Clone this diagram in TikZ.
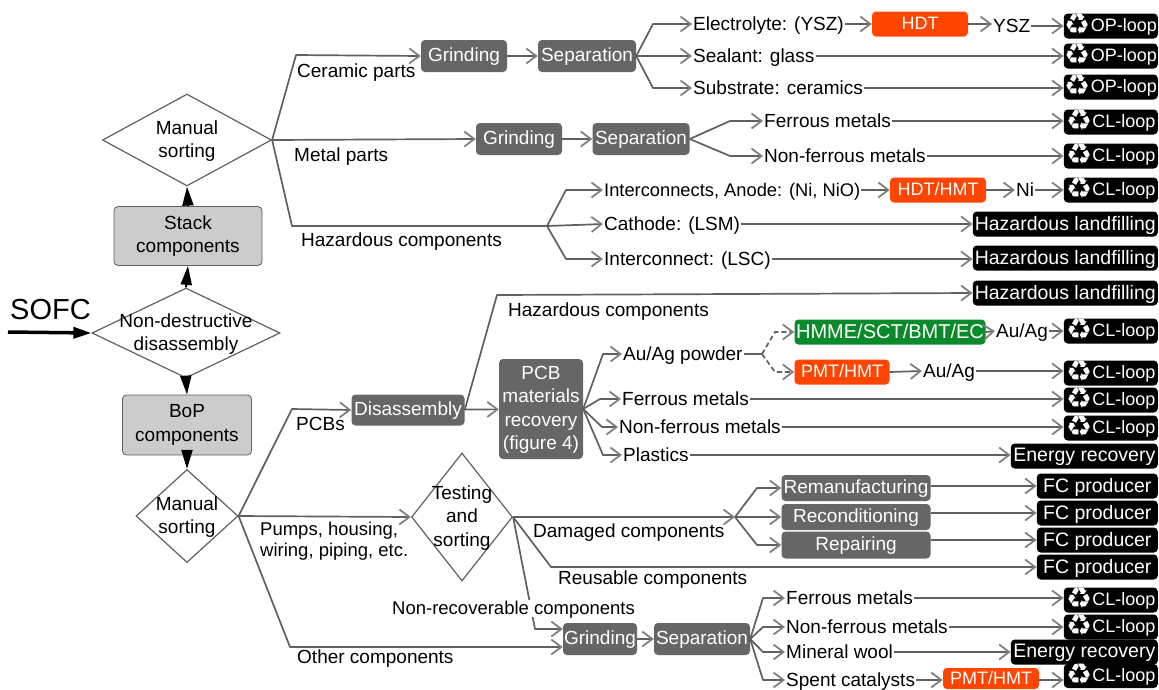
\documentclass[tikz,border=0pt]{standalone}
\usepackage{fontspec}
\setmainfont{Liberation Sans}
\newfontfamily\symfont{DejaVu Sans}
\usepackage{xcolor}
\usetikzlibrary{shapes.geometric}
\usetikzlibrary{arrows.meta}
\definecolor{procgray}{HTML}{666666}
\definecolor{compgray}{HTML}{CCCCCC}
\definecolor{hotorange}{HTML}{FF4500}
\definecolor{ecgreen}{HTML}{0A8A2A}
\definecolor{linegray}{HTML}{606060}
\definecolor{tipgray}{HTML}{808080}
\newcommand{\recy}{\smash{\raisebox{-3pt}{\symfont\fontsize{29}{21}\selectfont ♻}}}
\tikzset{
    every node/.style={font=\fontsize{19}{23.5}\selectfont, align=center},
    every label/.style={yshift=-1pt},
    txt/.style={anchor=west, inner sep=1pt, text height=13.5pt, text depth=1.5pt},
    decide/.style={draw=linegray, line width=1.2pt, diamond, inner sep=0pt, minimum width=#1},
    comp/.style={draw=linegray, fill=compgray, rounded corners=4pt, line width=0.8pt, inner sep=0pt},
    proc/.style={fill=procgray, text=white, rounded corners=4pt, inner sep=0pt, text depth=2pt},
    hot/.style={fill=hotorange, text=white, rounded corners=4pt, inner sep=0pt, minimum height=25pt, text depth=2pt, font=\fontsize{18}{23}\selectfont},
    ecnode/.style={fill=ecgreen, text=white, rounded corners=4pt, inner sep=0pt, minimum height=25pt, text depth=2pt, font=\fontsize{20}{23}\selectfont},
    sink/.style={fill=black, text=white, rounded corners=4pt, inner sep=0pt, minimum height=25pt, minimum width=#1, anchor=east, text depth=2pt, font=\fontsize{19.5}{23}\selectfont},
    loopsink/.style={sink=94pt, font=\fontsize{18}{23}\selectfont},
    conn/.style={draw=linegray, line width=1.7pt, line join=round},
    arr/.style={conn, -{Straight Barb[length=10pt, width=15pt, line width=1.8pt, color=tipgray]}},
    bold/.style={black, line width=2pt, -{Triangle[length=19pt, width=11pt]}}
}
\begin{document}
\begin{tikzpicture}[x=1pt, y=-1pt]
    \useasboundingbox (0,0) rectangle (1159,689);

    % left column
    \node[decide=169pt, minimum height=92pt, label={center:Manual\\sorting}] (sorta) at (187,140) {};
    \node[comp, minimum width=148pt, minimum height=59pt] (stack) at (188,236) {Stack\\components};
    \node[decide=188pt, minimum height=90pt, label={center:Non-destructive\\disassembly}] (nondes) at (186,333) {};
    \node[comp, minimum width=129pt, minimum height=60pt] (bop) at (187,425) {BoP\\components};
    \node[decide=102pt, minimum height=93pt, label={center:Manual\\sorting}] (sortb) at (187,516) {};
    \node[anchor=west, inner sep=1pt, font=\fontsize{29}{30}\selectfont] (sofc) at (9,310) {SOFC};
    \coordinate (sofcin) at (8,332);

    \draw[bold] (nondes.north) -- (stack.south);
    \draw[bold] (stack.north) -- (sorta.south);
    \draw[bold] (nondes.south) -- (bop.north);
    \draw[bold] (bop.south) -- (sortb.north);
    \draw[black, line width=3.5pt, -{Triangle[length=18pt, width=11pt]}] (sofcin) -- (nondes.west);

    % processing boxes
    \node[proc, minimum width=86pt, minimum height=32pt] (grinda) at (464,56) {Grinding};
    \node[proc, minimum width=98pt, minimum height=32pt] (sepa) at (587,56) {Separation};
    \node[proc, minimum width=86pt, minimum height=32pt] (grindb) at (519,139) {Grinding};
    \node[proc, minimum width=97pt, minimum height=32pt] (sepb) at (641,139) {Separation};
    \node[proc, minimum width=113pt, minimum height=31pt] (disass) at (408,410) {Disassembly};
    \node[proc, minimum width=84pt, minimum height=100pt] (pcb) at (541,409) {PCB\\materials\\recovery\\(figure 4)};
    \node[proc, minimum width=149pt, minimum height=26pt] (reman) at (856,488) {Remanufacturing};
    \node[proc, minimum width=149pt, minimum height=26pt] (recond) at (856,517) {Reconditioning};
    \node[proc, minimum width=149pt, minimum height=27pt] (repair) at (856,545) {Repairing};
    \node[proc, minimum width=74pt, minimum height=32pt] (grindc) at (600,639) {Grinding};
    \node[proc, minimum width=96pt, minimum height=32pt] (sepc) at (702,639) {Separation};
    \node[decide=101pt, minimum height=128pt, label={center:Testing\\and\\sorting}] (test) at (462,517) {};

    % treatments
    \node[hot, minimum width=96pt] (hdta) at (920,24) {HDT};
    \node[hot, minimum width=96pt] (hdtb) at (938,190) {HDT/HMT};
    \node[hot, minimum width=95pt] (pmta) at (842,372) {PMT/HMT};
    \node[hot, minimum width=96pt, minimum height=21pt] (pmtb) at (991,678.5) {PMT/HMT};
    \node[ecnode, minimum width=191pt] (hmme) at (890,332) {HMME/SCT/BMT/EC};

    % end points
    \node[loopsink] (opa) at (1158,26) {\recy OP-loop};
    \node[loopsink] (opb) at (1158,56) {\recy OP-loop};
    \node[loopsink] (opc) at (1158,87) {\recy OP-loop};
    \node[loopsink] (cla) at (1158,122) {\recy CL-loop};
    \node[loopsink] (clb) at (1158,156) {\recy CL-loop};
    \node[loopsink] (clc) at (1158,190) {\recy CL-loop};
    \node[sink=185pt] (hazla) at (1158,224) {Hazardous landfilling};
    \node[sink=185pt] (hazlb) at (1158,258) {Hazardous landfilling};
    \node[sink=185pt] (hazlc) at (1158,293) {Hazardous landfilling};
    \node[loopsink] (cld) at (1158,331) {\recy CL-loop};
    \node[loopsink] (cle) at (1158,373) {\recy CL-loop};
    \node[loopsink] (clf) at (1158,400) {\recy CL-loop};
    \node[loopsink] (clg) at (1158,428) {\recy CL-loop};
    \node[sink=147pt] (enera) at (1158,456) {Energy recovery};
    \node[sink=121pt] (fca) at (1158,486) {FC producer};
    \node[sink=121pt] (fcb) at (1158,513) {FC producer};
    \node[sink=121pt] (fcc) at (1158,540) {FC producer};
    \node[sink=121pt] (fcd) at (1158,567) {FC producer};
    \node[loopsink] (clh) at (1158,600) {\recy CL-loop};
    \node[loopsink] (cli) at (1158,627) {\recy CL-loop};
    \node[sink=147pt] (enerb) at (1158,652) {Energy recovery};
    \node[loopsink, minimum height=24pt] (clj) at (1158,676) {\recy CL-loop};

    % materials
    \node[txt] (elec) at (692,24) {Electrolyte: (YSZ)};
    \node[txt] (seal) at (692,56) {Sealant: glass};
    \node[txt] (subs) at (692,88) {Substrate: ceramics};
    \node[txt] (yszout) at (992,26) {YSZ};
    \node[txt] (ferra) at (763,121) {Ferrous metals};
    \node[txt] (nonfa) at (763,156) {Non-ferrous metals};
    \node[txt, font=\fontsize{18.3}{23}\selectfont] (inter) at (603,190) {Interconnects, Anode: (Ni, NiO)};
    \node[txt] (niout) at (1015,190) {Ni};
    \node[txt] (catho) at (603,224) {Cathode: (LSM)};
    \node[txt] (intlsc) at (603,259) {Interconnect: (LSC)};
    \node[txt] (auag) at (622,354) {Au/Ag powder};
    \node[txt] (auaga) at (995,331) {Au/Ag};
    \node[txt] (auagb) at (922,371) {Au/Ag};
    \node[txt] (ferrb) at (621,399) {Ferrous metals};
    \node[txt] (nonfb) at (618,427) {Non-ferrous metals};
    \node[txt] (plast) at (622,455) {Plastics};
    \node[txt] (ferrc) at (785,598) {Ferrous metals};
    \node[txt] (nonfc) at (785,627) {Non-ferrous metals};
    \node[txt] (miner) at (785,652) {Mineral wool};
    \node[txt] (spent) at (785,680) {Spent catalysts};

    % branch labels
    \node[txt] (ceram) at (296,71) {Ceramic parts};
    \node[txt] (metal) at (293,155) {Metal parts};
    \node[txt] (hazca) at (300,240) {Hazardous components};
    \node[txt] (hazcb) at (507,310) {Hazardous components};
    \node[txt] (pcbs) at (295,424) {PCBs};
    \node[anchor=west, inner sep=1pt, align=left, font=\fontsize{18.5}{21}\selectfont] (pumps) at (259,541) {Pumps, housing,\\wiring, piping, etc.};
    \node[txt] (other) at (296,657) {Other components};
    \node[txt] (damag) at (532,531) {Damaged components};
    \node[txt] (reuse) at (557,578) {Reusable components};

    % fork points
    \coordinate (forka) at (547,226);
    \coordinate (forkb) at (762,354);
    \coordinate (forkc) at (735,517);

    % stack branches
    \draw[arr] (sorta.east) -- (296,55) -- (grinda.west);
    \draw[arr] (sorta.east) -- (grindb.west);
    \draw[conn] (sorta.east) -- (292,226) -- (forka);
    \draw[arr] (grinda) -- (sepa);
    \draw[arr] (grindb) -- (sepb);
    \draw[arr] (sepa.east) -- (653,24) -- (elec.west);
    \draw[arr] (sepa.east) -- (seal.west);
    \draw[arr] (sepa.east) -- (653,88) -- (subs.west);
    \draw[arr] (elec.east) -- (hdta.west);
    \draw[arr] (hdta.east) -- (hdta.east -| yszout.west);
    \draw[arr] (yszout.east) -- (opa.west);
    \draw[arr] (seal.east) -- (opb.west);
    \draw[arr] (subs.east) -- (subs.east -| opc.west);
    \draw[arr] (sepb.east) -- (730,121) -- (ferra.west);
    \draw[arr] (sepb.east) -- (730,156) -- (nonfa.west);
    \draw[arr] (ferra.east) -- (ferra.east -| cla.west);
    \draw[arr] (nonfa.east) -- (clb.west);
    \draw[arr] (forka) -- (566,190) -- (inter.west);
    \draw[arr] (forka) -- (catho.west);
    \draw[arr] (forka) -- (566,259) -- (intlsc.west);
    \draw[arr] (inter.east) -- (hdtb.west);
    \draw[arr] (hdtb.east) -- (niout.west);
    \draw[arr] (niout.east) -- (clc.west);
    \draw[arr] (catho.east) -- (hazla.west);
    \draw[arr] (intlsc.east) -- (intlsc.east -| hazlb.west);

    % BoP branches
    \draw[arr] (sortb.east) -- (292,409) -- (disass.west);
    \draw[arr] (sortb.east) -- (test.west);
    \draw[arr] (sortb.east) -- (290,647) -- (grindc.west |- 0,647);
    \draw[arr] (disass.east) -- (497,295) -- (hazlc.west);
    \draw[arr] (disass) -- (pcb);
    \draw[arr] (pcb.east) -- (603,354) -- (auag.west);
    \draw[arr] (pcb.east) -- (600,399) -- (ferrb.west);
    \draw[arr] (pcb.east) -- (602,427) -- (nonfb.west);
    \draw[arr] (pcb.east) -- (603,455) -- (plast.west);
    \draw[conn] (auag.east) -- (forkb);
    \draw[arr, dash pattern=on 5pt off 3pt] (forkb) -- (775,332) -- (hmme.west);
    \draw[arr, dash pattern=on 5pt off 3pt] (forkb) -- (775,372) -- (pmta.west);
    \draw[arr] (hmme.east) -- (auaga.west);
    \draw[arr] (auaga.east) -- (cld.west);
    \draw[arr] (pmta.east) -- (auagb.west);
    \draw[arr] (auagb.east) -- (auagb.east -| cle.west);
    \draw[arr] (ferrb.east) -- (ferrb.east -| clf.west);
    \draw[arr] (nonfb.east) -- (nonfb.east -| clg.west);
    \draw[arr] (plast.east) -- (plast.east -| enera.west);
    \draw[arr] (test.east) -- (forkc);
    \draw[arr] (forkc) -- (757,488) -- (reman.west);
    \draw[arr] (forkc) -- (recond.west);
    \draw[arr] (forkc) -- (757,545) -- (repair.west);
    \draw[arr] (reman.east |- fca.west) -- (fca.west);
    \draw[arr] (recond.east |- fcb.west) -- (fcb.west);
    \draw[arr] (repair.east |- fcc.west) -- (fcc.west);
    \draw[arr] (test.east) -- (551,567) -- (fcd.west);
    \draw[arr] (test.east) -- (535,629) -- (grindc.west |- 0,629);
    \draw[arr] (grindc) -- (sepc);
    \draw[arr] (sepc.east) -- (763,598) -- (ferrc.west);
    \draw[arr] (sepc.east) -- (763,627) -- (nonfc.west);
    \draw[arr] (sepc.east) -- (763,652) -- (miner.west);
    \draw[arr] (sepc.east) -- (763,680) -- (spent.west);
    \draw[arr] (ferrc.east) -- (ferrc.east -| clh.west);
    \draw[arr] (nonfc.east) -- (cli.west);
    \draw[arr] (miner.east) -- (enerb.west);
    \draw[arr] (spent.east) -- (pmtb.west |- spent.east);
    \draw[arr] (pmtb.east |- spent.east) -- (clj.west |- spent.east);

    \node[txt, fill=white, font=\fontsize{18.5}{23}\selectfont] (nonrec) at (391,608) {Non-recoverable components};
\end{tikzpicture}
\end{document}
